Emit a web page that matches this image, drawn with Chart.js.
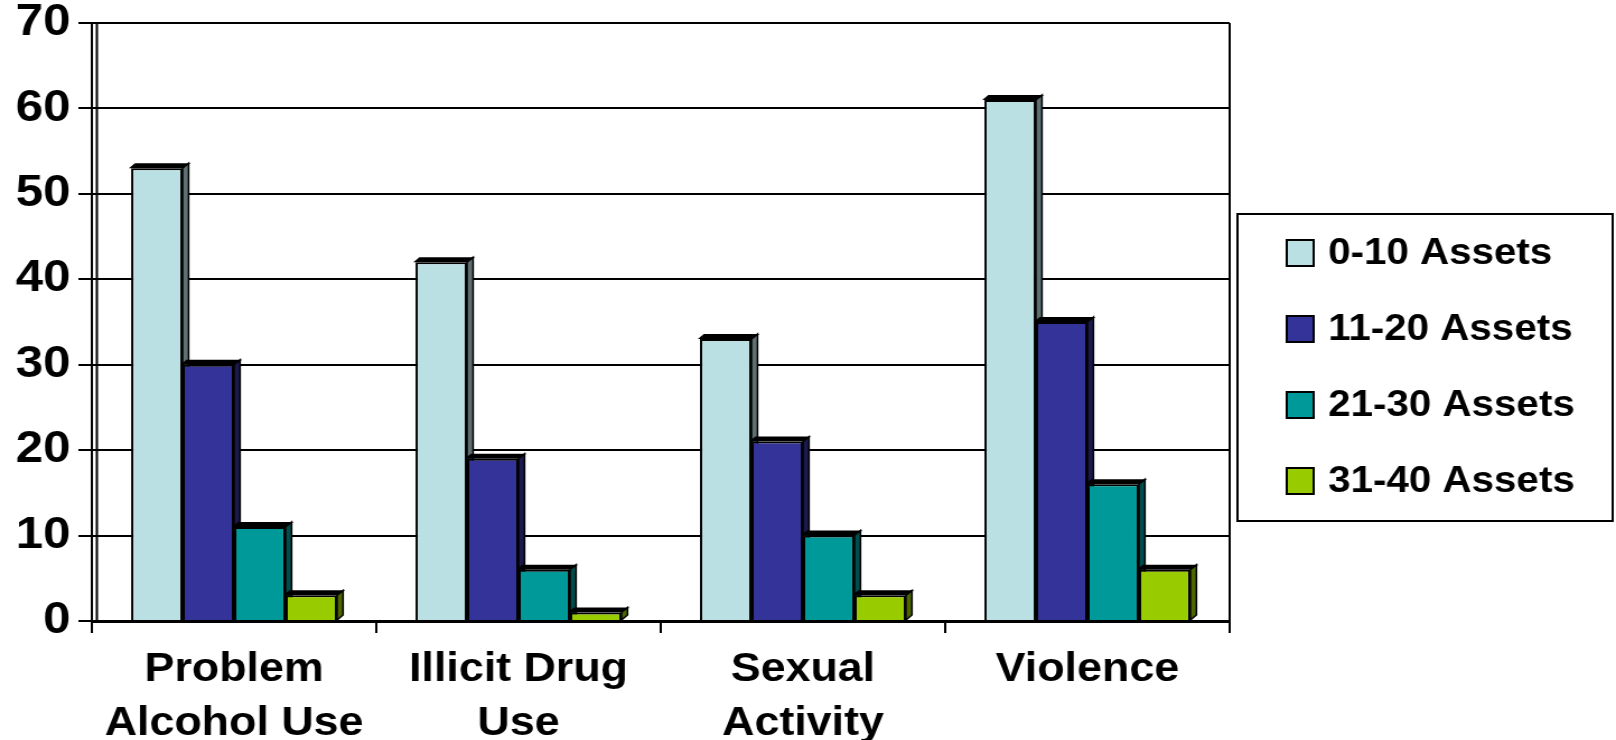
<!DOCTYPE html>
<html>
<head>
<meta charset="utf-8">
<script src="https://cdn.jsdelivr.net/npm/chart.js@4/dist/chart.umd.min.js"></script>
<style>
  body { margin: 0; background: #fff; }
  canvas { display: block; }
</style>
</head>
<body>
<!-- the original picture is stretched sideways, so the canvas is drawn narrower and widened by css -->
<canvas id="myChart" width="1443" height="740" style="width:1616px;height:740px"></canvas>
<script>
const categories = [['Problem', 'Alcohol Use'], ['Illicit Drug', 'Use'], ['Sexual', 'Activity'], 'Violence'];
const seriesNames = ['0-10 Assets', '11-20 Assets', '21-30 Assets', '31-40 Assets'];
const assets0to10 = [53, 42, 33, 61];
const assets11to20 = [30, 19, 21, 35];
const assets21to30 = [11, 6, 10, 16];
const assets31to40 = [3, 1, 3, 6];
const yMax = 70;
const yStep = 10;

const colors = ['#BBE0E3', '#333399', '#009999', '#99CC00'];
const sideColors = ['#5E7072', '#1A1A4D', '#004D4D', '#4D6600'];
const FONT = "'Liberation Sans', Arial, sans-serif";

// fake 3d: side + top faces, drawn under the bars so the next bar covers them
const depth = {
  id: 'depth',
  beforeDatasetsDraw(chart) {
    const ctx = chart.ctx;
    const a = chart.chartArea;
    const dx = 5.4, dy = 5;
    ctx.save();
    ctx.strokeStyle = '#000';
    ctx.lineWidth = 2;
    ctx.beginPath();
    ctx.moveTo(a.left + 4.5, a.top);
    ctx.lineTo(a.left + 4.5, a.bottom);
    ctx.moveTo(a.right, a.top);
    ctx.lineTo(a.right, a.bottom);
    ctx.stroke();
    chart.data.datasets.forEach((ds, i) => {
      chart.getDatasetMeta(i).data.forEach(bar => {
        const l = bar.x - bar.width / 2, r = bar.x + bar.width / 2;
        const t = bar.y, b = bar.base;
        ctx.fillStyle = sideColors[i];
        ctx.beginPath();
        ctx.moveTo(r, t); ctx.lineTo(r + dx, t - dy); ctx.lineTo(r + dx, b - dy); ctx.lineTo(r, b);
        ctx.closePath();
        ctx.fill();
        ctx.lineWidth = 1.5;
        ctx.stroke();
        ctx.fillStyle = '#000';
        ctx.beginPath();
        ctx.moveTo(l - 2, t); ctx.lineTo(l + dx - 2, t - dy); ctx.lineTo(r + dx + 2, t - dy); ctx.lineTo(r, t);
        ctx.closePath();
        ctx.fill();
      });
    });
    ctx.restore();
  }
};

// boxed legend on the right
const boxLegend = {
  id: 'boxLegend',
  afterDraw(chart) {
    const ctx = chart.ctx;
    ctx.save();
    ctx.strokeStyle = '#000';
    ctx.lineWidth = 2;
    ctx.strokeRect(1105, 214, 335, 307);
    ctx.font = 'bold 36px ' + FONT;
    ctx.textBaseline = 'middle';
    chart.data.datasets.forEach((ds, i) => {
      const cy = 253 + i * 76;
      ctx.fillStyle = ds.backgroundColor;
      ctx.fillRect(1149, cy - 13, 24, 26);
      ctx.strokeRect(1149, cy - 13, 24, 26);
      ctx.fillStyle = '#000';
      ctx.fillText(ds.label, 1186, cy + 1);
    });
    ctx.restore();
  }
};

const seriesData = [assets0to10, assets11to20, assets21to30, assets31to40];

const data = {
  labels: categories,
  datasets: seriesData.map((vals, i) => ({
    label: seriesNames[i],
    data: vals,
    backgroundColor: colors[i],
    borderColor: '#000',
    borderWidth: 2,
    categoryPercentage: 0.724,
    barPercentage: 1.0
  }))
};

const config = {
  type: 'bar',
  data: data,
  options: {
    responsive: false,
    animation: false,
    events: [],
    layout: {
      padding: { left: 0, right: 345, top: 23, bottom: 0 }
    },
    plugins: {
      legend: { display: false },
      tooltip: { enabled: false }
    },
    scales: {
      x: {
        afterFit(scale) { scale.height = 119; },
        grid: {
          drawOnChartArea: false,
          tickLength: 12,
          color: '#000',
          lineWidth: 2
        },
        border: { color: '#000', width: 3 },
        ticks: {
          color: '#000',
          padding: 10,
          maxRotation: 0,
          autoSkip: false,
          font: { family: FONT, size: 40, weight: 'bold', lineHeight: 1.35 }
        }
      },
      y: {
        min: 0,
        max: yMax,
        afterFit(scale) { scale.width = 82; },
        grid: { color: '#000', lineWidth: 2, tickLength: 12 },
        border: { color: '#000', width: 2 },
        ticks: {
          stepSize: yStep,
          color: '#000',
          padding: 7,
          font: { family: FONT, size: 44, weight: 'bold', lineHeight: 0.6 }
        }
      }
    }
  },
  plugins: [depth, boxLegend]
};

const myChart = new Chart(document.getElementById('myChart'), config);
</script>
</body>
</html>
